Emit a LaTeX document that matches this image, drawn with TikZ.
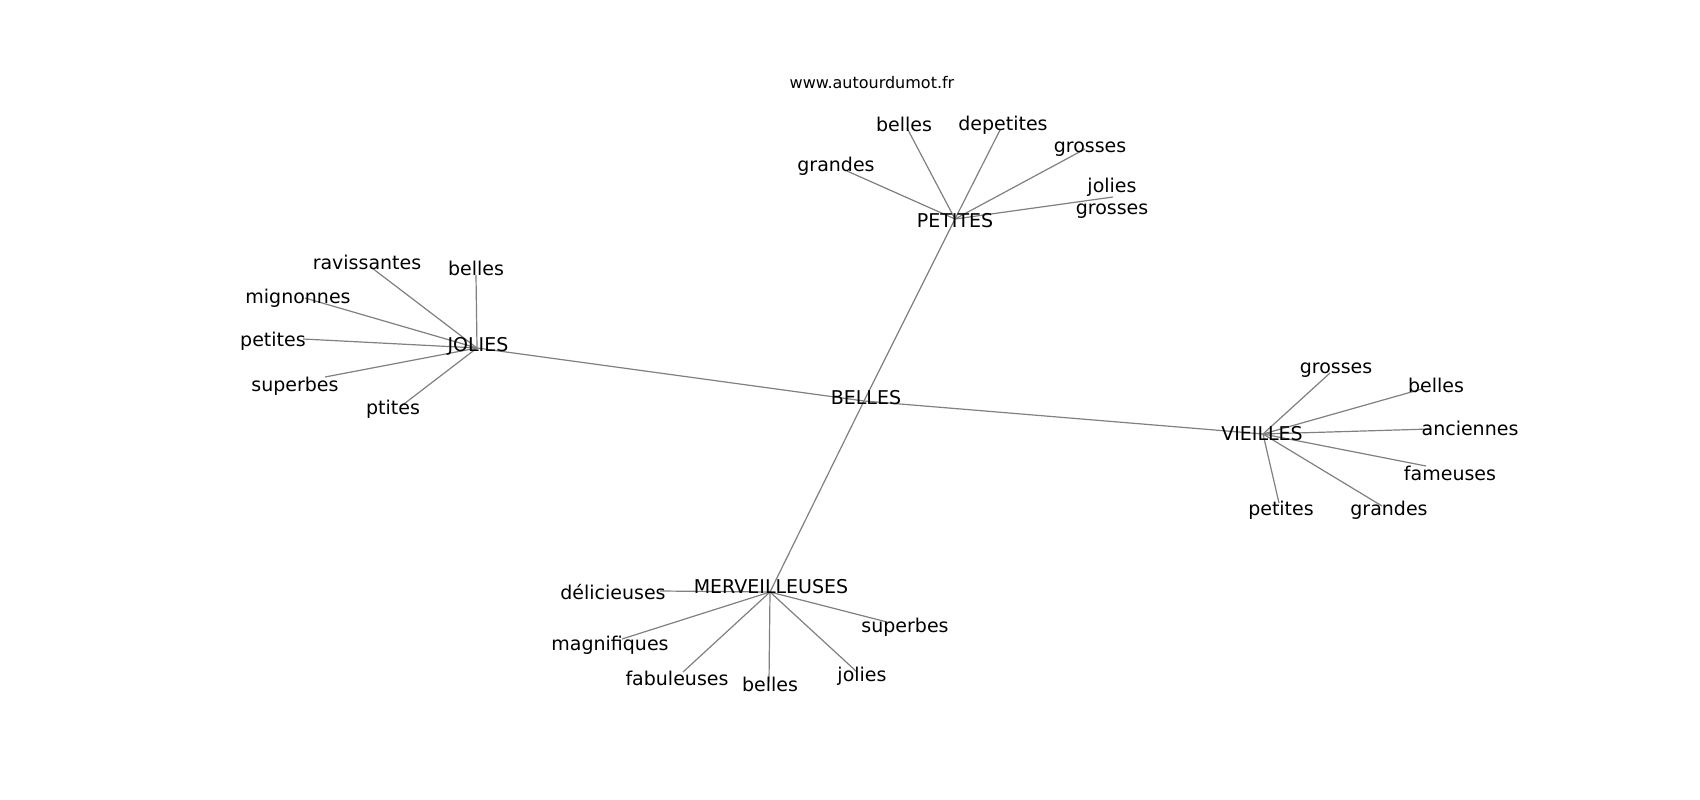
\documentclass[tikz,border=0pt]{standalone}
\usepackage{fontspec}
\setmainfont{DejaVu Sans}
\begin{document}
\begin{tikzpicture}[x=1pt,y=-1pt,
  lbl/.style={font=\fontsize{19}{22}\selectfont, inner sep=0pt, anchor=center, text=black, align=center, yshift=-2pt},
  site/.style={font=\fontsize{16}{18}\selectfont, inner sep=0pt, anchor=center, text=black},
  edge/.style={draw=black!50, line width=1.2pt}]
\useasboundingbox[fill=white] (0,0) rectangle (1700,800);
% hubs
\coordinate (hB) at (864,401);
\coordinate (hP) at (955,219);
\coordinate (hJ) at (477,348);
\coordinate (hV) at (1263,434);
\coordinate (hM) at (770,592);
% leaf end points
\coordinate (eP1) at (907,128);
\coordinate (eP2) at (1000,130);
\coordinate (eP3) at (1085,149);
\coordinate (eP4) at (847,171);
\coordinate (eP5) at (1113,197);
\coordinate (eJ1) at (372,268);
\coordinate (eJ2) at (476,275);
\coordinate (eJ3) at (305,298);
\coordinate (eJ4) at (303,339);
\coordinate (eJ5) at (325,377);
\coordinate (eJ6) at (400,407);
\coordinate (eV1) at (1330,373);
\coordinate (eV2) at (1422,389);
\coordinate (eV3) at (1430,429);
\coordinate (eV4) at (1426,466);
\coordinate (eV5) at (1279,503);
\coordinate (eV6) at (1382,506);
\coordinate (eM1) at (660,591);
\coordinate (eM2) at (622,639);
\coordinate (eM3) at (683,672);
\coordinate (eM4) at (769,682);
\coordinate (eM5) at (857,672);
\coordinate (eM6) at (887,622);
% edges
\foreach \a/\b in {hB/hP,hB/hJ,hB/hV,hB/hM,
  hP/eP1,hP/eP2,hP/eP3,hP/eP4,hP/eP5,
  hJ/eJ1,hJ/eJ2,hJ/eJ3,hJ/eJ4,hJ/eJ5,hJ/eJ6,
  hV/eV1,hV/eV2,hV/eV3,hV/eV4,hV/eV5,hV/eV6,
  hM/eM1,hM/eM2,hM/eM3,hM/eM4,hM/eM5,hM/eM6}
  \draw[edge] (\a) -- (\b);
% labels
\node[site] (www) at (872,83) {www.autourdumot.fr};
\node[lbl] (nB) at (866,396) {BELLES};
\node[lbl] (nP) at (955,219) {PETITES};
\node[lbl] (nJ) at (478,344) {JOLIES};
\node[lbl] (nV) at (1262,432) {VIEILLES};
\node[lbl] (nM) at (771,585) {MERVEILLEUSES};
\node[lbl] (lP1) at (904,122) {belles};
\node[lbl] (lP2) at (1003,123) {depetites};
\node[lbl] (lP3) at (1090,147) {grosses};
\node[lbl] (lP4) at (836,164) {grandes};
\node[lbl] (lP5) at (1112,196) {jolies\\grosses};
\node[lbl] (lJ1) at (367,260) {ravissantes};
\node[lbl] (lJ2) at (476,266) {belles};
\node[lbl] (lJ3) at (298,296) {mignonnes};
\node[lbl] (lJ4) at (273,339) {petites};
\node[lbl] (lJ5) at (295,384) {superbes};
\node[lbl] (lJ6) at (393,407) {ptites};
\node[lbl] (lV1) at (1336,368) {grosses};
\node[lbl] (lV2) at (1436,383) {belles};
\node[lbl] (lV3) at (1470,426) {anciennes};
\node[lbl] (lV4) at (1450,471) {fameuses};
\node[lbl] (lV5) at (1281,508) {petites};
\node[lbl] (lV6) at (1389,508) {grandes};
\node[lbl] (lM1) at (613,590) {délicieuses};
\node[lbl] (lM2) at (610,643) {magnifiques};
\node[lbl] (lM3) at (677,676) {fabuleuses};
\node[lbl] (lM4) at (770,682) {belles};
\node[lbl] (lM5) at (862,674) {jolies};
\node[lbl] (lM6) at (905,625) {superbes};
\end{tikzpicture}
\end{document}
